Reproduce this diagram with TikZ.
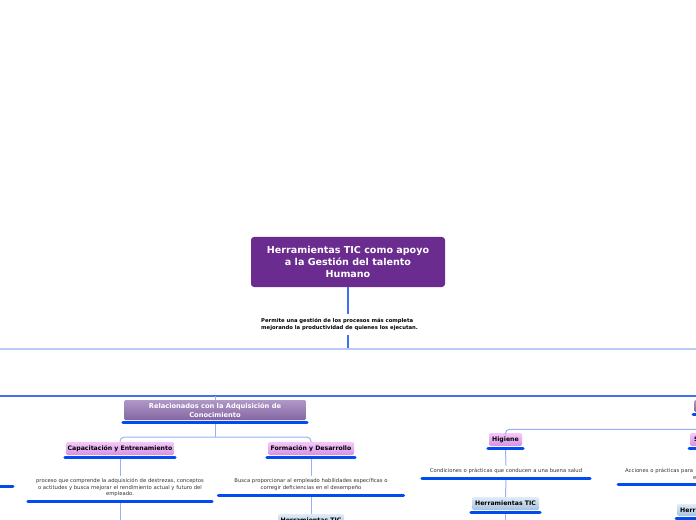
\documentclass[tikz,border=0pt]{standalone}
\usepackage{fontspec}
\setmainfont{DejaVu Sans}
\usetikzlibrary{positioning,calc}

\definecolor{rootpurple}{RGB}{107,44,143}
\definecolor{mainA}{RGB}{176,152,200}
\definecolor{mainB}{RGB}{132,102,162}
\definecolor{subA}{RGB}{246,200,250}
\definecolor{subB}{RGB}{212,146,226}
\definecolor{toolA}{RGB}{224,236,248}
\definecolor{toolB}{RGB}{166,194,220}
\definecolor{ublue}{RGB}{0,76,240}
\definecolor{cblue}{RGB}{150,178,246}
\definecolor{busblue}{RGB}{64,112,240}
\definecolor{paleblue}{RGB}{184,202,248}

\begin{document}
\begin{tikzpicture}[x=1bp,y=-1bp,
  roottopic/.style={fill=rootpurple,rounded corners=3bp,text=white,align=center,
    font=\bfseries\fontsize{9.6}{12}\selectfont,minimum width=194bp,minimum height=50bp,inner sep=0},
  maintopic/.style={top color=mainA,bottom color=mainB,rounded corners=1.5bp,text=white,align=center,
    font=\bfseries\fontsize{6.7}{9}\selectfont,minimum width=182bp,minimum height=20bp,inner sep=0},
  subtopic/.style={top color=subA,bottom color=subB,rounded corners=1.5bp,
    font=\bfseries\fontsize{6.2}{7}\selectfont,minimum height=13bp,inner sep=0},
  tooltopic/.style={top color=toolA,bottom color=toolB,rounded corners=1.5bp,
    font=\bfseries\fontsize{6.2}{7}\selectfont,minimum height=13bp,inner sep=0},
  note/.style={text=black!80,align=center,font=\fontsize{5.3}{6.5}\selectfont,inner xsep=0,inner ysep=2.5bp},
  conn/.style={cblue,line width=1bp},
  uline/.style={ublue,line width=3bp,line cap=round}]
\useasboundingbox (0,0) rectangle (696,520);
\clip (0,0) rectangle (696,520);

\node[roottopic] (root) at (348,262) {Herramientas TIC como apoyo\\a la Gestión del talento\\Humano};
\node[note,text=black,align=left,anchor=west,inner ysep=4bp,font=\bfseries\fontsize{5.3}{7}\selectfont]
  (permite) at (261,324.5) {Permite una gestión de los procesos más completa\\mejorando la productividad de quienes los ejecutan.};
\coordinate (busL) at (0,349);
\coordinate (busR) at (696,349);
\coordinate (bus2L) at (0,396);
\coordinate (bus2R) at (696,396);
\coordinate (bottomedge) at (0,530);

% left branch
\node[maintopic] (adq) at (215,410) {Relacionados con la Adquisición de\\Conocimiento};
\node[subtopic,minimum width=108bp] (cap) at (120,448.5) {Capacitación y Entrenamiento};
\node[subtopic,minimum width=86bp] (form) at (311,448.5) {Formación y Desarrollo};
\node[note,minimum width=184bp] (desc1) at (120,487.5) {proceso que comprende la adquisición de destrezas, conceptos\\o actitudes y busca mejorar el rendimiento actual y futuro del\\empleado.};
\node[note,minimum width=185bp,font=\fontsize{5.3}{7}\selectfont] (desc2) at (311,484.5) {Busca proporcionar al empleado habilidades específicas o\\corregir deficiencias en el desempeño};
\node[tooltopic,minimum width=66bp] (herrL) at (311,520.5) {Herramientas TIC};
\coordinate (stubA) at (-20,486);
\coordinate (stubB) at (13,486);

% right branch
\node[maintopic,minimum width=40bp,minimum height=12bp,anchor=west] (segsal) at (694,406) {};
\node[subtopic,minimum width=33bp] (hig) at (505.5,439.5) {Higiene};
\node[note,minimum width=168bp] (higdesc) at (506,471) {Condiciones o prácticas que conducen a una buena salud};
\node[tooltopic,minimum width=67bp] (herrR) at (505.5,503.5) {Herramientas TIC};
\node[subtopic,minimum width=40bp,text width=36bp,inner xsep=4bp,align=left,anchor=west] (seg) at (690,439.5) {S};
\node[note,minimum width=180bp,text width=173bp,inner xsep=7bp,align=left,font=\fontsize{5.3}{7}\selectfont,anchor=west]
  (segdesc) at (618,474) {Acciones o prácticas para\\\hspace*{68bp}e};
\node[tooltopic,minimum width=40bp,minimum height=12bp,text width=37bp,inner xsep=3bp,align=left,anchor=west] (herrS) at (677,510) {Herr};

% connectors
\draw[busblue,line width=1.5bp] (root.south) -- (root.south |- permite.north);
\draw[busblue,line width=1.5bp] (root.south |- permite.south) -- (root.south |- busL);
\draw[paleblue,line width=2bp] (busL) -- (busR);
\draw[busblue,line width=1.2bp] (bus2L) -- (bus2R);
\draw[conn] (adq.north |- bus2L) -- (adq.north);
\draw[conn] ($(adq.south)+(0,3.5)$) -- ($(adq.south)+(0,17)$) coordinate (adqfork);
\draw[conn,rounded corners=4bp] (cap.north) |- (adqfork) -| (form.north);
\draw[conn] ($(cap.south)+(0,3.5)$) -- (desc1.north);
\draw[conn] ($(desc1.south)+(0,3.5)$) -- (desc1.south |- bottomedge);
\draw[conn] ($(form.south)+(0,3.5)$) -- (desc2.north);
\draw[conn] ($(desc2.south)+(0,3.5)$) -- (herrL.north);
\draw[conn,rounded corners=4bp] (hig.north) |- ($(seg.north)+(0,-3.5)$);
\draw[conn] ($(hig.south)+(0,3.5)$) -- (higdesc.north);
\draw[conn] ($(higdesc.south)+(0,3.5)$) -- (herrR.north);
\draw[conn] ($(herrR.south)+(0,3.5)$) -- (herrR.south |- bottomedge);

% underlines
\foreach \n in {adq,cap,form,herrL,segsal,hig,herrR,seg,herrS}
  \draw[uline] ($(\n.south west)+(-1,2)$) -- ($(\n.south east)+(1,2)$);
\foreach \n in {desc1,desc2,higdesc,segdesc}
  \draw[uline] ($(\n.south west)+(0,2)$) -- ($(\n.south east)+(0,2)$);
\draw[uline] (stubA) -- (stubB);
\end{tikzpicture}
\end{document}
